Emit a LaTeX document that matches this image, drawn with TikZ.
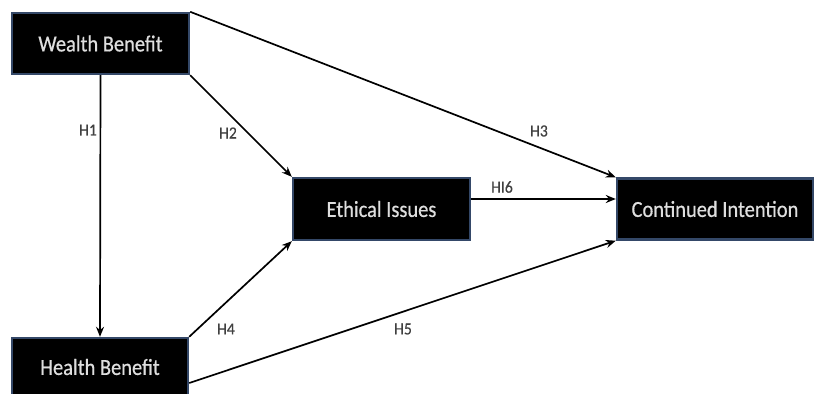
\documentclass[tikz,border=0pt]{standalone}
\usepackage{fontspec}
\setmainfont{Carlito}
\newfontfamily\boxfont[FakeStretch=0.89,FakeBold=0.6]{Carlito}
\newfontfamily\hypfont[FakeStretch=0.92,FakeBold=0.4]{Carlito}
\usetikzlibrary{arrows.meta}
\definecolor{boxedge}{RGB}{52,72,104}
\definecolor{boxtext}{RGB}{222,222,222}
\definecolor{labeltext}{RGB}{64,64,64}
\tikzset{
  factor/.style={draw=boxedge, line width=2.4pt, fill=black, text=boxtext,
    font=\boxfont\fontsize{23}{26}\selectfont, inner sep=0pt, anchor=center},
  link/.style={line width=1.7pt, -{Stealth[length=10pt,width=8pt]}},
  hyp/.style={text=labeltext, font=\hypfont\fontsize{17}{20}\selectfont, inner sep=0pt}
}
\begin{document}
\begin{tikzpicture}[x=1pt,y=-1pt]
\useasboundingbox (0,0) rectangle (815,394);
\clip (0,0) rectangle (815,394);
\node[factor, minimum width=177pt, minimum height=61pt] (wealth) at (100.5,43.5) {Wealth Benefit};
\node[factor, minimum width=176pt, minimum height=58pt] (health) at (100,367) {Health Benefit};
\node[factor, minimum width=177pt, minimum height=62pt] (ethical) at (381.5,209) {Ethical Issues};
\node[factor, minimum width=196pt, minimum height=61pt] (cont) at (715,209) {Continued Intention};

\draw[link] (wealth.south) -- (health.north);
\draw[link] (wealth.south east) -- (ethical.north west);
\draw[link] (wealth.north east) -- (cont.north west);
\draw[link] (health.north east) -- (ethical.south west);
\draw[link] ([yshift=-16pt]health.east) -- (cont.south west);
\draw[link] ([yshift=10pt]ethical.east) -- ([yshift=10pt]cont.west);

\node[hyp] (h1) at (88,130) {H1};
\node[hyp] (h2) at (228,133) {H2};
\node[hyp] (h3) at (539,131) {H3};
\node[hyp] (h4) at (226,329) {H4};
\node[hyp] (h5) at (403,329) {H5};
\node[hyp] (h6) at (502,187) {HI6};
\end{tikzpicture}
\end{document}
